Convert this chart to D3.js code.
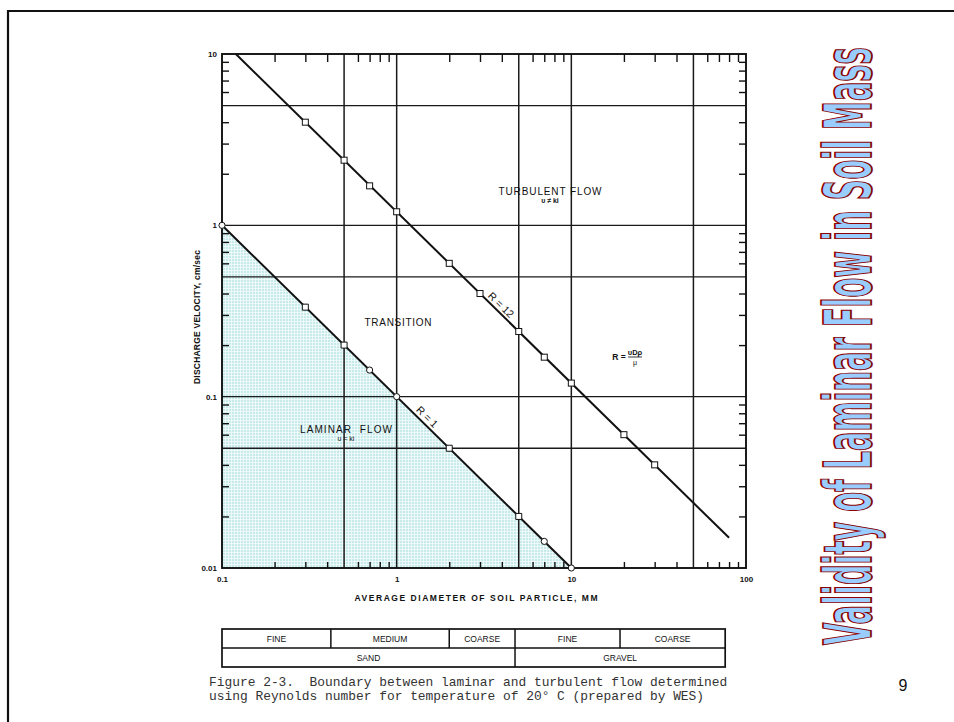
<!DOCTYPE html>
<html>
<head>
<meta charset="utf-8">
<script src="https://cdn.jsdelivr.net/npm/d3@7"></script>
<style>
  body { margin: 0; background: #fff; }
  svg { display: block; }
  text { font-family: "Liberation Sans", Arial, sans-serif; }
</style>
</head>
<body>
<svg id="chart"></svg>
<script>
// values
const gridX = [0.5, 1, 5, 10, 50];
const gridY = [0.05, 0.1, 0.5, 1, 5];
const xLabels = [0.1, 1, 10, 100];
const yLabels = [0.01, 0.1, 1, 10];
const xDecades = [0.1, 1, 10];
const yDecades = [0.01, 0.1, 1];

const r12Diam = [0.3, 0.5, 0.7, 1, 2, 3, 5, 7, 10, 20, 30];
const r12Vel = [4, 2.4, 1.7, 1.2, 0.6, 0.4, 0.24, 0.17, 0.12, 0.06, 0.04];
const r12Ends = [[0.12, 10], [80, 0.015]];

const r1Diam = [0.1, 0.3, 0.5, 0.7, 1, 2, 5, 7, 10];
const r1Vel = [1, 0.333, 0.2, 0.143, 0.1, 0.05, 0.02, 0.0143, 0.01];
const r1Shape = ['c', 's', 's', 'c', 'c', 's', 's', 'c', 'c'];
const laminarArea = [[0.1, 0.01], [0.1, 1], [10, 0.01]];

const soilTop = ['FINE', 'MEDIUM', 'COARSE', 'FINE', 'COARSE'];
const soilTopEdges = [0.1, 0.42, 2.0, 4.76, 19, 76];
const soilBottom = ['SAND', 'GRAVEL'];
const soilBottomEdges = [0.1, 4.76, 76];

const width = 954;
const height = 722;

const svg = d3.select('#chart')
    .attr('width', width)
    .attr('height', height);

// slide frame
svg.append('path')
    .attr('d', 'M8,' + height + 'V11H' + width)
    .style('fill', 'none')
    .style('stroke', '#111')
    .style('stroke-width', 2.2);

const x = d3.scaleLog().domain([0.1, 100]).range([222, 746]);
const y = d3.scaleLog().domain([0.01, 10]).range([568, 54]);

function minorTicks(decades) {
    const out = [];
    decades.forEach((d) => {
        for (let k = 2; k <= 9; k++) {
            if (k !== 5) out.push(d * k);
        }
    });
    return out;
}
const minorX = minorTicks(xDecades);
const minorY = minorTicks(yDecades);

// shaded laminar area
const defs = svg.append('defs');
const pat = defs.append('pattern')
    .attr('id', 'mesh')
    .attr('patternUnits', 'userSpaceOnUse')
    .attr('width', 3)
    .attr('height', 3);
pat.append('rect').attr('width', 3).attr('height', 3).style('fill', '#c8eaea');
pat.append('path')
    .attr('d', 'M0,0.5H3M0.5,0V3')
    .style('stroke', '#f4fbfb')
    .style('stroke-width', 0.8);

const line = d3.line().x((d) => x(d[0])).y((d) => y(d[1]));

svg.append('path')
    .attr('d', line(laminarArea) + 'Z')
    .style('fill', 'url(#mesh)');

// grid
svg.append('g')
    .selectAll('line')
    .data(gridX)
    .enter()
    .append('line')
    .attr('x1', (d) => x(d))
    .attr('x2', (d) => x(d))
    .attr('y1', y.range()[0])
    .attr('y2', y.range()[1])
    .style('stroke', '#1a1a1a')
    .style('stroke-width', 1.5);

svg.append('g')
    .selectAll('line')
    .data(gridY)
    .enter()
    .append('line')
    .attr('x1', x.range()[0])
    .attr('x2', x.range()[1])
    .attr('y1', (d) => y(d))
    .attr('y2', (d) => y(d))
    .style('stroke', '#1a1a1a')
    .style('stroke-width', 1.3);

// minor ticks on all four sides, pointing inward
const tickStyle = (g) => {
    g.select('.domain').remove();
    g.selectAll('line').style('stroke', '#111').style('stroke-width', 1.4);
};
svg.append('g')
    .attr('transform', 'translate(0,' + y.range()[1] + ')')
    .call(d3.axisTop(x).tickValues(minorX).tickSize(-8).tickFormat(''))
    .call(tickStyle);
svg.append('g')
    .attr('transform', 'translate(0,' + y.range()[0] + ')')
    .call(d3.axisBottom(x).tickValues(minorX).tickSize(-6).tickFormat(''))
    .call(tickStyle);
svg.append('g')
    .attr('transform', 'translate(' + x.range()[0] + ',0)')
    .call(d3.axisLeft(y).tickValues(minorY).tickSize(-7).tickFormat(''))
    .call(tickStyle);
svg.append('g')
    .attr('transform', 'translate(' + x.range()[1] + ',0)')
    .call(d3.axisRight(y).tickValues(minorY).tickSize(-7).tickFormat(''))
    .call(tickStyle);

// frame
svg.append('rect')
    .attr('x', x.range()[0])
    .attr('y', y.range()[1])
    .attr('width', x.range()[1] - x.range()[0])
    .attr('height', y.range()[0] - y.range()[1])
    .style('fill', 'none')
    .style('stroke', '#111')
    .style('stroke-width', 1.9);

// tick labels
const labelStyle = (g) => {
    g.select('.domain').remove();
    g.selectAll('line').remove();
    g.selectAll('text')
        .style('font-size', '8px')
        .style('font-weight', 'bold')
        .style('fill', '#111');
};
svg.append('g')
    .attr('transform', 'translate(0,' + y.range()[0] + ')')
    .call(d3.axisBottom(x).tickValues(xLabels).tickSize(0).tickPadding(8).tickFormat((d) => String(d)))
    .call(labelStyle);
svg.append('g')
    .attr('transform', 'translate(' + x.range()[0] + ',0)')
    .call(d3.axisLeft(y).tickValues(yLabels).tickSize(0).tickPadding(5).tickFormat((d) => String(d)))
    .call(labelStyle);

// boundary lines
svg.append('path')
    .attr('d', line(r12Ends))
    .style('fill', 'none')
    .style('stroke', '#111')
    .style('stroke-width', 2);
svg.append('path')
    .attr('d', line([laminarArea[1], laminarArea[2]]))
    .style('fill', 'none')
    .style('stroke', '#111')
    .style('stroke-width', 2);

// markers
svg.append('g')
    .selectAll('rect')
    .data(r12Diam)
    .enter()
    .append('rect')
    .attr('x', (d) => x(d) - 3)
    .attr('y', (d, i) => y(r12Vel[i]) - 3)
    .attr('width', 6)
    .attr('height', 6)
    .style('fill', '#fff')
    .style('stroke', '#111')
    .style('stroke-width', 1);

svg.append('g')
    .selectAll('path')
    .data(r1Diam)
    .enter()
    .append('path')
    .attr('transform', (d, i) => 'translate(' + x(d) + ',' + y(r1Vel[i]) + ')')
    .attr('d', (d, i) => r1Shape[i] === 's' ? 'M-3,-3h6v6h-6Z' : d3.symbol(d3.symbolCircle, 30)())
    .style('fill', '#fff')
    .style('stroke', '#111')
    .style('stroke-width', 1);

// text helper
const label = (tx, ty, str, size, opts) => {
    opts = opts || {};
    const t = svg.append('text')
        .attr('x', tx)
        .attr('y', ty)
        .attr('text-anchor', 'middle')
        .style('font-size', size + 'px')
        .style('fill', '#111')
        .style('white-space', 'pre')
        .text(str);
    if (opts.bold) t.style('font-weight', 'bold');
    if (opts.len) t.attr('textLength', opts.len).attr('lengthAdjust', 'spacing');
    if (opts.rotate) t.attr('transform', 'rotate(' + opts.rotate + ',' + tx + ',' + ty + ')');
    return t;
};

const slope = Math.atan2(y(0.1) - y(1), x(1) - x(0.1)) * 180 / Math.PI;

label(550, 195, 'TURBULENT FLOW', 10, { len: 103 });
label(550, 203, 'υ ≠ ki', 7, { bold: true });
label(398, 326, 'TRANSITION', 10, { len: 67 });
label(346, 433, 'LAMINAR  FLOW', 10, { len: 92 });
label(346, 441, 'υ = ki', 7);
label(498.5, 307.5, 'R = 12', 10.5, { rotate: slope });
label(424.5, 419.5, 'R = 1', 10.5, { rotate: slope });

// Reynolds number formula
label(619, 360, 'R =', 8.5, { bold: true });
label(635, 355, 'υDρ', 7.5, { bold: true });
svg.append('line')
    .attr('x1', 628).attr('x2', 642)
    .attr('y1', 357).attr('y2', 357)
    .style('stroke', '#222').style('stroke-width', 0.9);
label(635, 365, 'μ', 7);

// axis titles
label(476, 601, 'AVERAGE DIAMETER OF SOIL PARTICLE, MM', 8.5, { bold: true, len: 243 });
label(200, 317, 'DISCHARGE VELOCITY, cm/sec', 8.5, { bold: true, rotate: -90, len: 134 });

// soil classification table
const tY = [629, 648, 667];
const table = svg.append('g');
table.append('rect')
    .attr('x', x(soilTopEdges[0]))
    .attr('y', tY[0])
    .attr('width', x(soilTopEdges[5]) - x(soilTopEdges[0]))
    .attr('height', tY[2] - tY[0])
    .style('fill', 'none')
    .style('stroke', '#111')
    .style('stroke-width', 1.7);
table.append('line')
    .attr('x1', x(soilTopEdges[0])).attr('x2', x(soilTopEdges[5]))
    .attr('y1', tY[1]).attr('y2', tY[1])
    .style('stroke', '#111').style('stroke-width', 1.5);
table.selectAll('.sep-top')
    .data(soilTopEdges.slice(1, 5))
    .enter()
    .append('line')
    .attr('x1', (d) => x(d)).attr('x2', (d) => x(d))
    .attr('y1', tY[0]).attr('y2', tY[1])
    .style('stroke', '#111').style('stroke-width', 1.5);
table.append('line')
    .attr('x1', x(soilBottomEdges[1])).attr('x2', x(soilBottomEdges[1]))
    .attr('y1', tY[1]).attr('y2', tY[2])
    .style('stroke', '#111').style('stroke-width', 1.5);

soilTop.forEach((s, i) => {
    label((x(soilTopEdges[i]) + x(soilTopEdges[i + 1])) / 2, tY[0] + 13, s, 8.5);
});
soilBottom.forEach((s, i) => {
    label((x(soilBottomEdges[i]) + x(soilBottomEdges[i + 1])) / 2, tY[1] + 13, s, 8.5);
});

// caption
const caption = [
    'Figure 2-3.  Boundary between laminar and turbulent flow determined',
    'using Reynolds number for temperature of 20° C (prepared by WES)',
];
svg.append('g')
    .selectAll('text')
    .data(caption)
    .enter()
    .append('text')
    .attr('x', 209)
    .attr('y', (d, i) => 686 + i * 14)
    .attr('xml:space', 'preserve')
    .style('white-space', 'pre')
    .style('font-family', '"Liberation Mono", "Courier New", monospace')
    .style('font-size', '12.9px')
    .style('fill', '#333')
    .text((d) => d);

// slide title: squeezed along its length with a scale so the box stays true
const title = svg.append('text')
    .style('font-family', '"Liberation Sans Narrow", "DejaVu Sans Condensed", Arial, sans-serif')
    .style('font-weight', 'bold')
    .style('font-size', '65px')
    .style('fill', '#99ccff')
    .style('stroke', '#8b0000')
    .style('stroke-width', 1.2)
    .text('Validity of Laminar Flow in Soil Mass');
const natural = title.node().getComputedTextLength();
const squeeze = 598 / natural;
title.attr('transform', 'translate(871,645) rotate(-90) scale(' + squeeze + ',1)')
    .style('stroke-width', 1.2 / Math.sqrt(squeeze));

svg.append('text')
    .attr('x', 903)
    .attr('y', 691)
    .attr('text-anchor', 'middle')
    .style('font-size', '16px')
    .style('fill', '#111')
    .text('9');
</script>
</body>
</html>
